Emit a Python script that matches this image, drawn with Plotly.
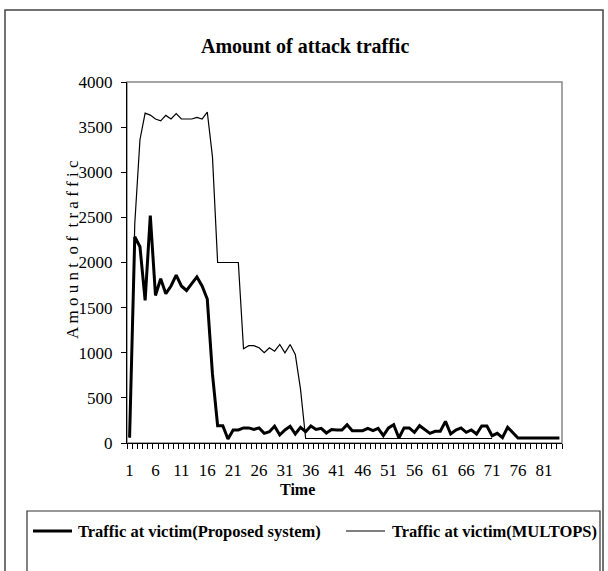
import plotly.graph_objects as go

# ---- data ----
time_proposed = list(range(1, 85))
proposed = [60, 2285, 2175, 1580, 2520, 1635, 1820, 1655, 1740, 1860,
            1740, 1690, 1765, 1840, 1740, 1595, 765, 192, 192, 44,
            144, 144, 167, 167, 150, 167, 107, 125, 185, 89,
            144, 185, 100, 174, 125, 189, 150, 163, 111, 150,
            144, 144, 203, 137, 137, 137, 163, 137, 163, 81,
            167, 203, 55, 167, 167, 118, 192, 148, 107, 130,
            130, 240, 100, 144, 167, 118, 144, 100, 189, 189,
            81, 107, 59, 174, 110, 55, 55, 55, 55, 55,
            55, 55, 55, 55]
time_multops = list(range(1, 72))
multops = [60, 2430, 3360, 3655, 3633, 3590, 3570, 3630, 3590, 3650,
           3590, 3590, 3590, 3607, 3590, 3667, 3173, 2000, 2000, 2000,
           2000, 2000, 1044, 1078, 1078, 1055, 1000, 1055, 1018, 1092,
           1000, 1092, 981, 600, 50, 50, 50, 50, 50, 50,
           50, 50, 50, 50, 50, 50, 50, 50, 50, 50,
           50, 50, 50, 50, 50, 50, 50, 50, 50, 50,
           50, 50, 50, 50, 50, 50, 50, 50, 50, 50,
           50]
x_tick_labels = [1, 6, 11, 16, 21, 26, 31, 36, 41, 46, 51, 56, 61, 66, 71, 76, 81]
y_ticks = [0, 500, 1000, 1500, 2000, 2500, 3000, 3500, 4000]
series_names = ["Traffic at victim(Proposed system)", "Traffic at victim(MULTOPS)"]
series_widths = [3, 1.2]

FONT = "Liberation Serif, Times New Roman, serif"

fig = go.Figure()
fig.add_trace(go.Scatter(x=time_proposed, y=proposed, mode="lines",
                         name=series_names[0], showlegend=False,
                         line=dict(color="black", width=series_widths[0])))
fig.add_trace(go.Scatter(x=time_multops, y=multops, mode="lines",
                         name=series_names[1], showlegend=False,
                         line=dict(color="black", width=series_widths[1])))

L, R, T, B = 127, 562, 82, 443
W, H = 608, 571
pw, ph = R - L, B - T

def px(x):
    return (x - L) / pw

def py(y):
    return (B - y) / ph

shapes = [
    dict(type="rect", xref="paper", yref="paper", x0=0, x1=1, y0=0, y1=1,
         line=dict(color="#888888", width=1.5), layer="below"),
    dict(type="rect", xref="paper", yref="paper",
         x0=px(5), x1=px(603), y0=py(600), y1=py(10),
         line=dict(color="#444444", width=1.5), layer="below"),
    # legend box
    dict(type="rect", xref="paper", yref="paper",
         x0=px(27), x1=px(600), y0=py(590), y1=py(511),
         line=dict(color="#333333", width=1.2), layer="below"),
]
annotations = [
    dict(text="<b>Amount of attack traffic</b>", xref="paper", yref="paper",
         x=px(305), y=py(46), xanchor="center", yanchor="middle", showarrow=False,
         font=dict(family=FONT, size=20, color="black")),
    dict(text="<b>Time</b>", xref="paper", yref="paper",
         x=px(297), y=py(489), xanchor="center", yanchor="middle", showarrow=False,
         font=dict(family=FONT, size=16, color="black")),
    dict(text="A m o u n t  o f  t r a f f i c", xref="paper", yref="paper",
         x=px(72), y=py(250), xanchor="center", yanchor="middle", showarrow=False,
         textangle=-90, font=dict(family=FONT, size=17, color="black")),
]

# legend entries (sample line + label)
legend_samples = [(33, 72, 76), (346, 385, 390)]
for (sx0, sx1, tx), name, lw in zip(legend_samples, series_names, series_widths):
    shapes.append(dict(type="line", xref="paper", yref="paper",
                       x0=px(sx0), x1=px(sx1), y0=py(531), y1=py(531),
                       line=dict(color="black", width=lw)))
    annotations.append(dict(text="<b>" + name + "</b>", xref="paper", yref="paper",
                            x=px(tx), y=py(531), xanchor="left", yanchor="middle",
                            showarrow=False,
                            font=dict(family=FONT, size=16.5, color="black")))

fig.update_layout(
    width=W, height=H,
    margin=dict(l=L, r=W - R, t=T, b=H - B, autoexpand=False),
    paper_bgcolor="white", plot_bgcolor="white",
    font=dict(family=FONT, color="black", size=16),
    showlegend=False,
    xaxis=dict(range=[0.5, 84.5], tickmode="array", tickvals=x_tick_labels,
               ticktext=[str(v) for v in x_tick_labels], ticks="",
               showline=True, linecolor="black", linewidth=1, automargin=False,
               showgrid=False, zeroline=False, ticklabelstandoff=12,
               tickfont=dict(family=FONT, size=17),
               minor=dict(tick0=0.5, dtick=1, ticks="outside", ticklen=5,
                          tickcolor="black", showgrid=False)),
    yaxis=dict(range=[0, 4000], tickmode="array", tickvals=y_ticks,
               ticks="outside", ticklen=5, tickcolor="black", automargin=False,
               showline=True, linecolor="black", linewidth=1,
               showgrid=False, zeroline=False, ticklabelstandoff=5,
               tickfont=dict(family=FONT, size=17)),
    shapes=shapes,
    annotations=annotations,
)

fig.write_html("out.html", config={"displayModeBar": False},
               post_script="document.body.style.margin='0px';document.body.style.padding='0px';")
